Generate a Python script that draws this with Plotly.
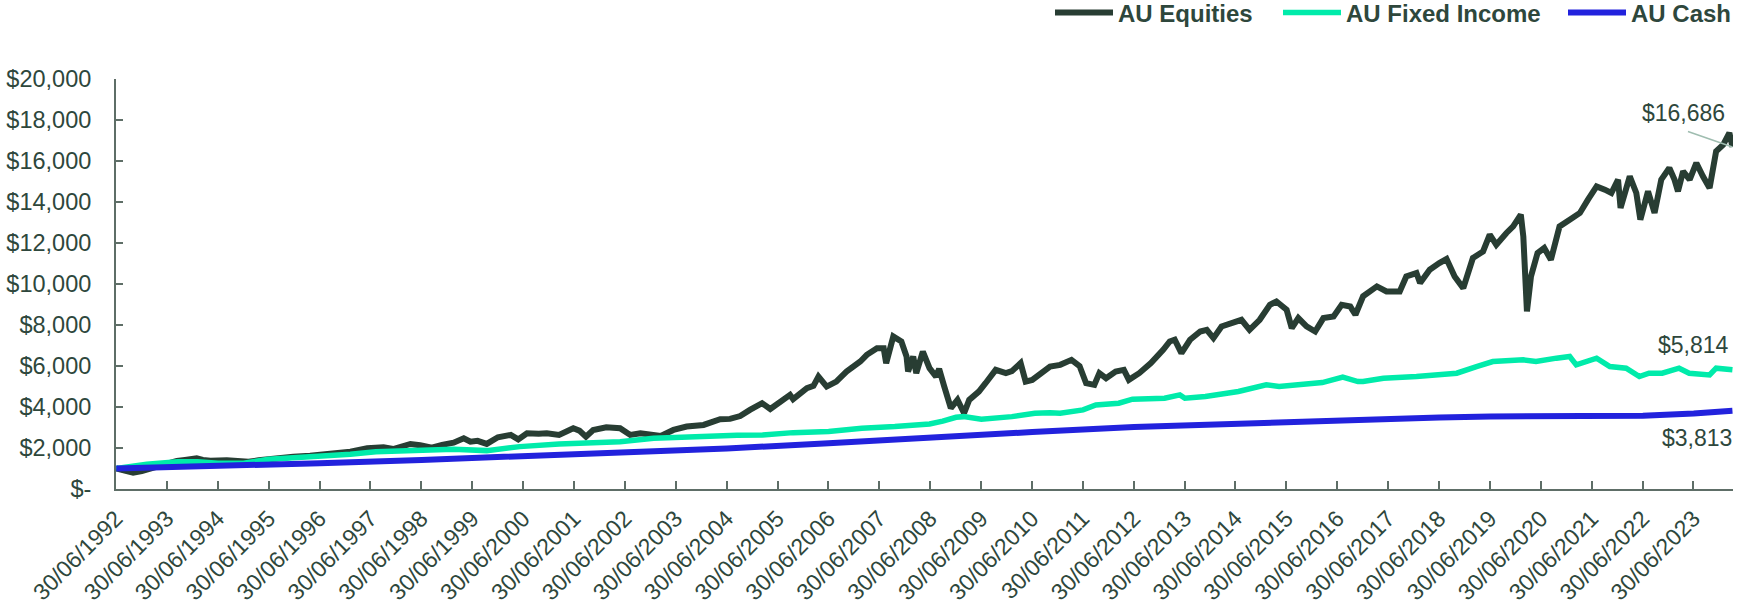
import datetime as dt
import plotly.graph_objects as go

# ---------------- data ----------------
eq_years = [1992.50, 1992.65, 1992.83, 1993.00, 1993.10, 1993.35, 1993.69, 1993.85, 1994.08, 1994.20,
            1994.35, 1994.67, 1994.90, 1995.10, 1995.30, 1995.53, 1995.75, 1995.98, 1996.31, 1996.64,
            1996.90, 1997.10, 1997.43, 1997.75, 1997.94, 1998.10, 1998.28, 1998.47, 1998.70, 1998.90,
            1999.13, 1999.33, 1999.46, 1999.60, 1999.78, 2000.00, 2000.25, 2000.40, 2000.57, 2000.80,
            2000.96, 2001.20, 2001.48, 2001.60, 2001.73, 2001.87, 2002.13, 2002.40, 2002.60, 2002.80,
            2003.06, 2003.20, 2003.45, 2003.71, 2004.04, 2004.37, 2004.56, 2004.76, 2004.95, 2005.19,
            2005.35, 2005.55, 2005.74, 2005.80, 2006.07, 2006.20, 2006.30, 2006.46, 2006.65, 2006.85,
            2007.12, 2007.25, 2007.45, 2007.58, 2007.63, 2007.77, 2007.93, 2008.03, 2008.06, 2008.16,
            2008.22, 2008.35, 2008.48, 2008.61, 2008.67, 2008.77, 2008.83, 2008.90, 2009.03, 2009.16,
            2009.26, 2009.45, 2009.58, 2009.78, 2009.98, 2010.10, 2010.27, 2010.37, 2010.50, 2010.63,
            2010.85, 2011.05, 2011.27, 2011.43, 2011.56, 2011.72, 2011.82, 2011.95, 2012.14, 2012.30,
            2012.40, 2012.60, 2012.83, 2013.07, 2013.20, 2013.30, 2013.43, 2013.60, 2013.80, 2013.93,
            2014.06, 2014.22, 2014.45, 2014.61, 2014.77, 2014.97, 2015.17, 2015.30, 2015.50, 2015.60,
            2015.73, 2015.89, 2016.06, 2016.22, 2016.42, 2016.58, 2016.75, 2016.85, 2017.00, 2017.27,
            2017.46, 2017.72, 2017.85, 2018.05, 2018.12, 2018.31, 2018.50, 2018.64, 2018.80, 2018.97,
            2019.16, 2019.36, 2019.49, 2019.62, 2019.82, 2019.95, 2020.10, 2020.15, 2020.22, 2020.30,
            2020.43, 2020.56, 2020.69, 2020.86, 2021.06, 2021.26, 2021.42, 2021.59, 2021.75, 2021.88,
            2022.01, 2022.06, 2022.24, 2022.37, 2022.45, 2022.60, 2022.73, 2022.86, 2023.02, 2023.12,
            2023.19, 2023.29, 2023.42, 2023.55, 2023.68, 2023.81, 2023.94, 2024.08, 2024.20, 2024.26]
eq_values = [1000, 880, 800, 880, 960, 1150, 1367, 1420, 1500, 1420,
             1382, 1400, 1330, 1330, 1400, 1480, 1530, 1578, 1627, 1700,
             1760, 1822, 1985, 2040, 1950, 2100, 2198, 2134, 2017, 2150,
             2261, 2476, 2310, 2350, 2198, 2525, 2637, 2420, 2720, 2700,
             2720, 2640, 2964, 2850, 2555, 2880, 3013, 2964, 2637, 2720,
             2640, 2590, 2880, 3045, 3125, 3402, 3420, 3560, 3858, 4184,
             3900, 4265, 4591, 4380, 4916, 5030, 5485, 4997, 5240, 5729,
             6217, 6545, 6870, 6870, 6140, 7440, 7195, 6463, 5730, 6463,
             5649, 6707, 5893, 5485, 5860, 4997, 4508, 3940, 4350, 3695,
             4347, 4754, 5160, 5812, 5649, 5750, 6140, 5240, 5320, 5600,
             5973, 6056, 6300, 6000, 5160, 5080, 5650, 5405, 5730, 5812,
             5323, 5650, 6140, 6789, 7195, 7280, 6627, 7280, 7683, 7765,
             7360, 7927, 8090, 8254, 7765, 8254, 8986, 9148, 8742, 7848,
             8336, 7930, 7683, 8336, 8417, 8986, 8900, 8500, 9400, 9882,
             9638, 9638, 10369, 10532, 10046, 10696, 11020, 11218, 10369, 9800,
             11267, 11590, 12405, 11917, 12490, 12810, 13380, 12322, 8660, 10369,
             11510, 11755, 11184, 12810, 13138, 13465, 14115, 14763, 14603, 14440,
             15090, 13710, 15253, 14440, 13138, 14520, 13465, 15090, 15660, 15090,
             14520, 15497, 15090, 15904, 15253, 14685, 16474, 16800, 17372, 16686]

fi_years = [1992.50, 1993.10, 1993.70, 1994.10, 1994.50, 1995.00, 1995.50, 1996.30, 1997.10, 1997.60,
            1998.28, 1998.60, 1999.13, 1999.78, 2000.43, 2001.20, 2001.73, 2002.40, 2003.06, 2003.70,
            2004.37, 2004.70, 2005.20, 2005.80, 2006.50, 2007.15, 2007.80, 2008.48, 2008.74, 2009.00,
            2009.15, 2009.50, 2010.10, 2010.55, 2010.85, 2011.05, 2011.50, 2011.75, 2012.20, 2012.47,
            2013.10, 2013.40, 2013.50, 2013.90, 2014.55, 2015.10, 2015.35, 2015.87, 2016.20, 2016.60,
            2016.90, 2017.00, 2017.40, 2018.05, 2018.84, 2019.23, 2019.55, 2020.15, 2020.40, 2020.80,
            2021.06, 2021.19, 2021.59, 2021.85, 2022.17, 2022.43, 2022.62, 2022.88, 2023.21, 2023.41,
            2023.81, 2023.94, 2024.26]
fi_values = [1000, 1205, 1330, 1330, 1260, 1255, 1450, 1550, 1700, 1822,
             1870, 1900, 1937, 1872, 2067, 2196, 2261, 2310, 2474, 2555,
             2590, 2620, 2637, 2750, 2800, 2963, 3045, 3175, 3310, 3500,
             3530, 3403, 3530, 3695, 3720, 3695, 3858, 4103, 4184, 4380,
             4430, 4590, 4430, 4510, 4754, 5080, 5000, 5128, 5193, 5453,
             5240, 5240, 5400, 5485, 5650, 5973, 6217, 6300, 6217, 6383,
             6463, 6056, 6383, 5973, 5893, 5485, 5650, 5650, 5893, 5650,
             5567, 5893, 5814]

cash_years = [1992.50, 1994.50, 1996.50, 1998.50, 2000.50, 2002.50, 2004.50, 2006.50, 2008.50, 2010.50,
              2012.50, 2014.50, 2016.50, 2018.50, 2019.50, 2020.50, 2022.50, 2023.50, 2024.26]
cash_values = [1000, 1110, 1260, 1420, 1590, 1780, 1980, 2230, 2530, 2780,
               3030, 3200, 3390, 3490, 3540, 3565, 3570, 3680, 3813]

series_names = ["AU Equities", "AU Fixed Income", "AU Cash"]
end_labels = ["$16,686", "$5,814", "$3,813"]
tick_years = list(range(1992, 2024))
y_ticks = list(range(0, 20001, 2000))
y_ticktext = ["$-"] + [f"${v:,}" for v in y_ticks[1:]]

# ---------------- helpers ----------------
def to_date(y):
    yr = int(y)
    days = int(round((dt.date(yr + 1, 1, 1) - dt.date(yr, 1, 1)).days * (y - yr)))
    return (dt.date(yr, 1, 1) + dt.timedelta(days=days)).isoformat()

eq_x = [to_date(v) for v in eq_years]
fi_x = [to_date(v) for v in fi_years]
cash_x = [to_date(v) for v in cash_years]
tick_dates = [f"{y}-06-30" for y in tick_years]
tick_text = [f"30/06/{y}" for y in tick_years]

TEXT = "#2E473C"
C_EQ = "#283D33"
C_FI = "#00EBAA"
C_CASH = "#2222DD"
AXIS = "#5E6E67"
FONT = "Liberation Sans, Arial, sans-serif"
W = 1738

fig = go.Figure()
fig.add_trace(go.Scatter(x=eq_x, y=eq_values, mode="lines", name=series_names[0],
                         line=dict(color=C_EQ, width=6), legend="legend"))
fig.add_trace(go.Scatter(x=fi_x, y=fi_values, mode="lines", name=series_names[1],
                         line=dict(color=C_FI, width=5.5), legend="legend2"))
fig.add_trace(go.Scatter(x=cash_x, y=cash_values, mode="lines", name=series_names[2],
                         line=dict(color=C_CASH, width=6), legend="legend3"))

last_x = [eq_x[-1], fi_x[-1], cash_x[-1]]
last_y = [eq_values[-1], fi_values[-1], cash_values[-1]]
shifts = [(-5, 34), (-1, 25), (2, -27)]
for lx, ly, lab, (sx, sy) in zip(last_x, last_y, end_labels, shifts):
    fig.add_annotation(x=lx, y=ly, text=lab, showarrow=False, xanchor="right", yanchor="middle",
                       xshift=sx, yshift=sy, font=dict(size=23, color=TEXT, family=FONT))
# leader line for equities label
fig.add_annotation(x=last_x[0], y=last_y[0], text="", showarrow=True, arrowhead=0,
                   arrowwidth=1.5, arrowcolor="#9FBDB0", ax=-46, ay=-16)

def legend_at(px):
    return dict(orientation="h", xref="container", yref="container", x=px / W, xanchor="left",
                y=1 - 13 / 606, yanchor="middle", itemwidth=58, bgcolor="rgba(0,0,0,0)",
                font=dict(size=24, color=TEXT, family=FONT, weight="bold"))

fig.update_layout(
    width=W, height=606,
    margin=dict(l=116, r=5, t=79, b=117, autoexpand=False),
    paper_bgcolor="white", plot_bgcolor="white",
    font=dict(family=FONT, color=TEXT, size=23),
    showlegend=True,
    legend=legend_at(1050), legend2=legend_at(1278), legend3=legend_at(1563),
    xaxis=dict(type="date", range=["1992-06-30", "2024-04-09"],
               tickvals=tick_dates, ticktext=tick_text, tickangle=-45,
               showgrid=False, zeroline=False, showline=True, linecolor=AXIS, linewidth=2,
               ticks="inside", ticklen=8, tickcolor=AXIS, tickwidth=1.5,
               tickfont=dict(size=23, color=TEXT), ticklabelstandoff=5),
    yaxis=dict(range=[0, 20000], tickvals=y_ticks, ticktext=y_ticktext,
               showgrid=False, zeroline=False, showline=True, linecolor=AXIS, linewidth=2,
               ticks="inside", ticklen=7, tickcolor=AXIS, tickwidth=1.5,
               tickfont=dict(size=23.5, color=TEXT), ticklabelstandoff=18),
)

fig.write_html("out.html")
